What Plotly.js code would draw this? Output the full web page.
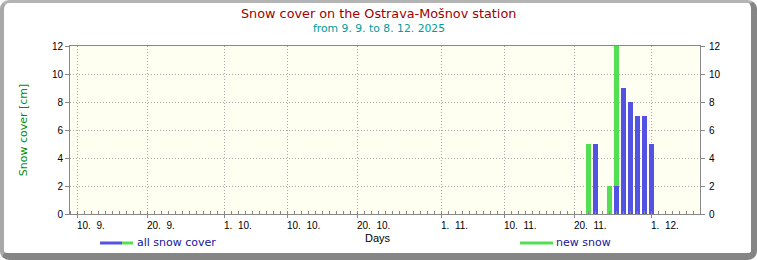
<!DOCTYPE html>
<html><head><meta charset="utf-8">
<script src="https://cdn.plot.ly/plotly-3.0.1.min.js"></script>
<style>
html,body{margin:0;padding:0;background:#fff;width:757px;height:260px;overflow:hidden}
#frame{position:absolute;left:0;top:0;box-sizing:border-box;width:757px;height:260px;
 border-style:solid;border-width:3px 6px 7px 4px;border-color:#b4b4b4 #858585 #858585 #a8a8a8;border-radius:9px;background:#fff}
#chart{position:absolute;left:0;top:0;width:757px;height:260px}
</style></head>
<body>
<div id="frame"></div>
<div id="chart"></div>
<script>
// data
const snowCoverDates = ['2025-11-23','2025-11-26','2025-11-27','2025-11-28','2025-11-29','2025-11-30','2025-12-01'];
const snowCoverValues = [5, 2, 9, 8, 7, 7, 5];
const newSnowDates = ['2025-11-22','2025-11-25','2025-11-26'];
const newSnowValues = [5, 2, 12];
const tickDates = ['2025-09-10','2025-09-20','2025-10-01','2025-10-10','2025-10-20','2025-11-01','2025-11-10','2025-11-20','2025-12-01'];
const tickLabels = ['10.  9.','20.  9.','1.  10.','10.  10.','20.  10.','1.  11.','10.  11.','20.  11.','1.  12.'];
const yTicks = [0, 2, 4, 6, 8, 10, 12];

const DAY = 86400000;
const blue = '#5252e4', green = '#52e052';
const axisGray = '#888888';
const gridGray = '#a8a8a8';
const tickFont = {family: 'Liberation Sans, Arial, sans-serif', size: 10, color: '#000'};

const traces = [
  {type: 'bar', x: newSnowDates, y: newSnowValues, width: 5/7*DAY, marker: {color: green, line: {width: 0}}, name: 'new snow', hoverinfo: 'x+y'},
  {type: 'bar', x: snowCoverDates, y: snowCoverValues, width: 5/7*DAY, marker: {color: blue, line: {width: 0}}, name: 'all snow cover', hoverinfo: 'x+y'},
  {type: 'scatter', x: [], y: [], yaxis: 'y2', showlegend: false, hoverinfo: 'skip'}
];

const pw = 757 - 70 - 57, ph = 260 - 46 - 46;
function px(x) { return (x - 70) / pw; }
function py(y) { return (260 - 46 - y) / ph; }

const annotations = [
  {text: 'Snow cover on the Ostrava-Mošnov station', xref: 'paper', yref: 'paper', x: px(378.5), y: py(13), yanchor: 'middle', showarrow: false,
   font: {family: 'DejaVu Sans, Verdana, sans-serif', size: 12.8, color: '#a00000'}},
  {text: 'from 9. 9. to 8. 12. 2025', xref: 'paper', yref: 'paper', x: px(378.5), y: py(29), yanchor: 'middle', showarrow: false,
   font: {family: 'DejaVu Sans, Verdana, sans-serif', size: 10.8, color: '#009a9a'}},
  {text: 'Days', xref: 'paper', yref: 'paper', x: px(378), y: py(238), yanchor: 'middle', showarrow: false,
   font: {family: 'Liberation Sans, Arial, sans-serif', size: 11, color: '#000'}},
  {text: 'all snow cover', xref: 'paper', yref: 'paper', x: px(135), y: py(242), xanchor: 'left', yanchor: 'middle', showarrow: false,
   font: {family: 'DejaVu Sans, Verdana, sans-serif', size: 11, color: '#1414a0'}},
  {text: 'new snow', xref: 'paper', yref: 'paper', x: px(554), y: py(242), xanchor: 'left', yanchor: 'middle', showarrow: false,
   font: {family: 'DejaVu Sans, Verdana, sans-serif', size: 11, color: '#1414a0'}}
];
// tick labels left-aligned at their tick dates
tickDates.forEach((d, i) => {
  annotations.push({text: tickLabels[i].replace(/ /g, '\u00a0'), xref: 'x', yref: 'paper', x: d, y: 0, xanchor: 'left', yanchor: 'top',
    yshift: -4, xshift: -2, showarrow: false, font: tickFont});
});

const layout = {
  width: 757, height: 260,
  margin: {l: 70, r: 57, t: 46, b: 46, pad: 0},
  paper_bgcolor: 'rgba(0,0,0,0)', plot_bgcolor: '#fefef1',
  showlegend: false, barmode: 'overlay', bargap: 0,
  xaxis: {type: 'date', range: ['2025-09-09', '2025-12-08'], tickvals: tickDates, ticktext: tickLabels, showticklabels: false,
    ticks: 'outside', ticklen: 3, tickcolor: axisGray, showline: true, linecolor: axisGray, linewidth: 1, mirror: true,
    showgrid: true, gridcolor: gridGray, griddash: '1px,2px', gridwidth: 1, zeroline: false, fixedrange: true,
    minor: {ticks: 'inside', ticklen: 3, tickcolor: axisGray, dtick: DAY, tick0: '2025-09-09', showgrid: false}},
  yaxis: {range: [0, 12], tickvals: yTicks, ticks: 'outside', ticklen: 4, tickcolor: axisGray, showline: true, linecolor: axisGray,
    showgrid: true, gridcolor: gridGray, griddash: '1px,2px', zeroline: false, tickfont: tickFont, ticklabelstandoff: 0,
    title: {text: 'Snow cover [cm]', font: {family: 'DejaVu Sans, Verdana, sans-serif', size: 11, color: '#009000'}, standoff: 22}},
  yaxis2: {range: [0, 12], tickvals: yTicks, overlaying: 'y', side: 'right', ticks: 'outside', ticklen: 4, tickcolor: axisGray,
    showline: true, linecolor: axisGray, showgrid: false, zeroline: false, tickfont: tickFont, ticklabelstandoff: 2},
  annotations: annotations,
  shapes: [
    {type: 'line', xref: 'paper', yref: 'paper', x0: px(100), x1: px(122), y0: py(243), y1: py(243), line: {color: blue, width: 3}},
    {type: 'line', xref: 'paper', yref: 'paper', x0: px(122), x1: px(133), y0: py(243), y1: py(243), line: {color: green, width: 3}},
    {type: 'line', xref: 'paper', yref: 'paper', x0: px(520), x1: px(553), y0: py(243), y1: py(243), line: {color: green, width: 3}}
  ]
};

Plotly.newPlot('chart', traces, layout, {staticPlot: true, displayModeBar: false});
</script>
</body></html>
